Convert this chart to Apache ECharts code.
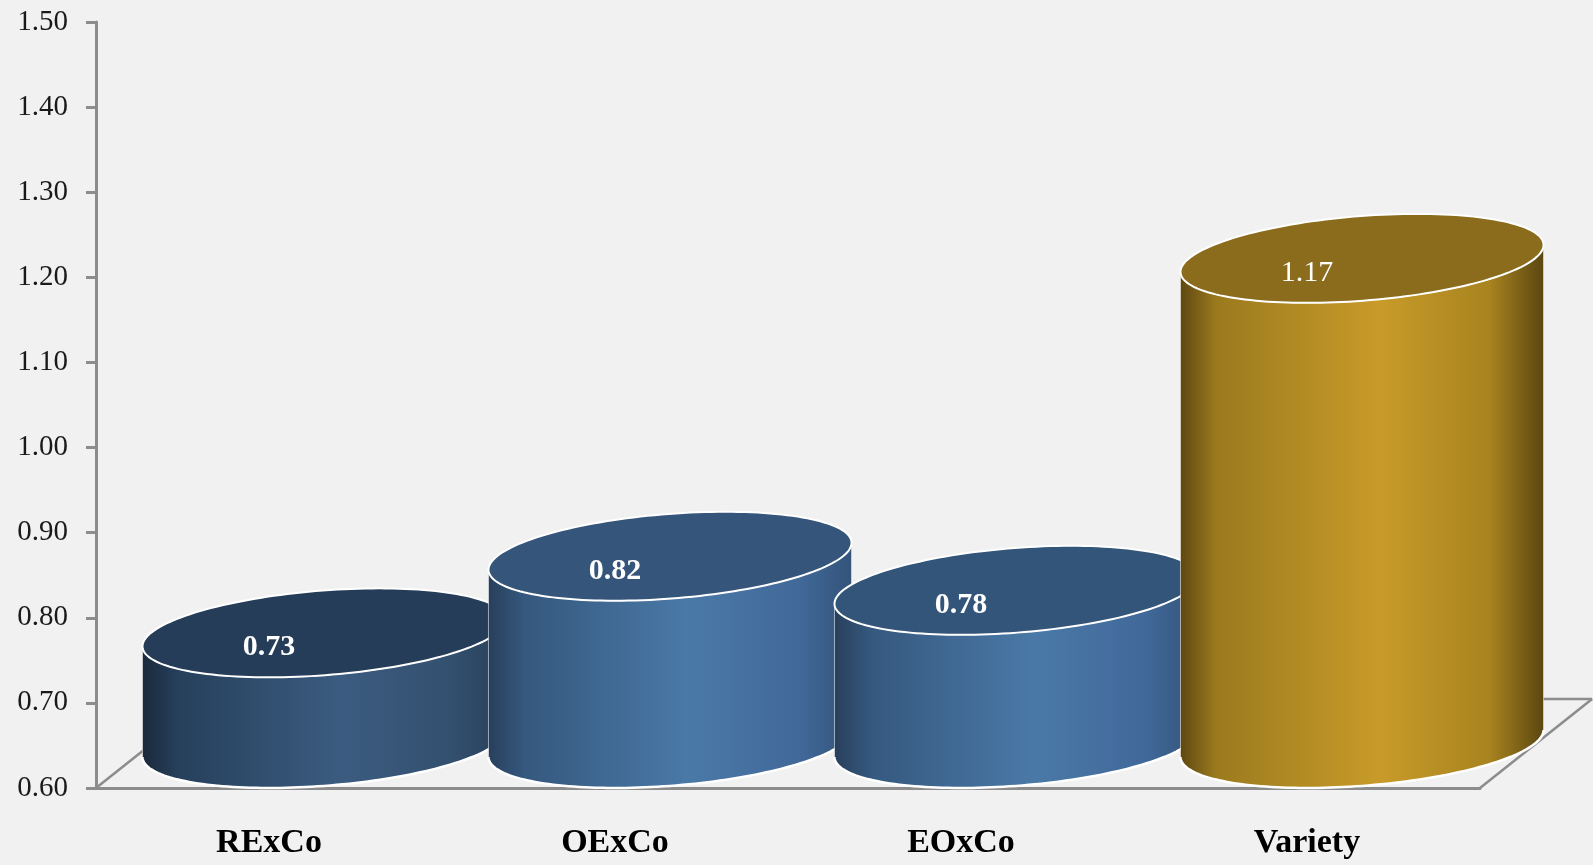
<!DOCTYPE html>
<html><head><meta charset="utf-8">
<script src="https://cdn.jsdelivr.net/npm/echarts@6/dist/echarts.min.js"></script>
<style>html,body{margin:0;padding:0;background:#f1f1f1}#c{width:1593px;height:865px}</style>
</head><body><div id="c"></div>
<script>
// ---- data ----
const categories = ['RExCo', 'OExCo', 'EOxCo', 'Variety'];
const values = [0.73, 0.82, 0.78, 1.17];
const valueLabels = ['0.73', '0.82', '0.78', '1.17'];
const yMin = 0.60, yMax = 1.50, yStep = 0.10;

// ---- styles ----
const FONT = '"Liberation Serif", "Times New Roman", serif';
const palette = [
  { top: '#253d58', side: ['#1b293b', '#26405c', '#3b5c80', '#33506f', '#283f5a'], bold: true },
  { top: '#35567a', side: ['#283f5b', '#35587e', '#4a79a7', '#41699a', '#33547a'], bold: true },
  { top: '#34557a', side: ['#283f5b', '#35587e', '#4a79a7', '#41699a', '#33547a'], bold: true },
  { top: '#8a6c1c', side: ['#5e4711', '#9b7a1e', '#c89b29', '#a8831f', '#5b4610'], bold: false }
];
const AXIS_GREY = '#8c8c8c';

const chart = echarts.init(document.getElementById('c'), null, { renderer: 'canvas' });

function ellipseGeom(band) {
  const a = band * 0.5, vx = -band * 0.159, vy = band * 0.1286;
  const phiR = Math.atan2(vx, a);
  return { a, vx, vy, phiR, phiL: phiR + Math.PI };
}
function arc(g, c, p0, p1, n) {
  const pts = [];
  for (let k = 0; k <= n; k++) {
    const p = p0 + (p1 - p0) * k / n;
    pts.push([c[0] + g.a * Math.cos(p) + g.vx * Math.sin(p), c[1] + g.vy * Math.sin(p)]);
  }
  return pts;
}

function renderCylinder(params, api) {
  const i = params.dataIndex;
  const v = api.value(1);
  const top = api.coord([api.value(0), v]);
  const base = api.coord([api.value(0), yMin]);
  const band = api.size([1, 0])[0];
  const g = ellipseGeom(band);
  const tc = [top[0] - g.vx, top[1] - g.vy];
  const bc = [base[0] - g.vx, base[1] - g.vy];
  const pal = palette[i];
  const body = arc(g, bc, g.phiR, g.phiL, 90).concat(arc(g, tc, g.phiL, g.phiR, 90));
  const s = pal.side;
  return {
    type: 'group',
    children: [
      {
        type: 'polygon', shape: { points: body },
        style: {
          fill: new echarts.graphic.LinearGradient(0, 0, 1, 0, [
            { offset: 0, color: s[0] }, { offset: 0.1, color: s[1] },
            { offset: 0.55, color: s[2] }, { offset: 0.85, color: s[3] }, { offset: 1, color: s[4] }
          ]),
          stroke: 'rgba(255,255,255,0.55)', lineWidth: 1
        }
      },
      {
        type: 'polyline', shape: { points: arc(g, bc, g.phiR, g.phiL, 90) },
        style: { stroke: '#ffffff', lineWidth: 2.5, fill: null }
      },
      {
        type: 'polygon', shape: { points: arc(g, tc, 0, Math.PI * 2, 160) },
        style: { fill: pal.top, stroke: '#ffffff', lineWidth: 2 }
      },
      {
        type: 'text',
        style: {
          x: top[0], y: top[1] - 30, text: valueLabels[i],
          fill: '#ffffff', font: (pal.bold ? 'bold ' : '') + '30px ' + FONT,
          align: 'center', verticalAlign: 'middle'
        }
      }
    ]
  };
}

function renderFloor(params, api) {
  const cs = params.coordSys;
  const band = api.size([1, 0])[0];
  const dx = band * 0.324, dy = -band * 0.257;
  const x0 = cs.x, x1 = cs.x + cs.width, y0 = cs.y + cs.height;
  const ls = { stroke: AXIS_GREY, lineWidth: 2.5 };
  return {
    type: 'group',
    children: [
      { type: 'line', shape: { x1: x0, y1: y0, x2: x0 + dx, y2: y0 + dy }, style: ls },
      { type: 'line', shape: { x1: x1, y1: y0, x2: x1 + dx, y2: y0 + dy }, style: ls },
      { type: 'line', shape: { x1: x0 + dx, y1: y0 + dy, x2: x1 + dx, y2: y0 + dy }, style: ls }
    ]
  };
}

chart.setOption({
  backgroundColor: '#f1f1f1',
  animation: false,
  grid: { left: 96, right: 113, top: 22, bottom: 77, containLabel: false },
  xAxis: {
    type: 'category', data: categories,
    axisLine: { show: true, lineStyle: { color: AXIS_GREY, width: 3 } },
    axisTick: { show: false },
    axisLabel: { fontFamily: FONT, fontSize: 34, fontWeight: 'bold', color: '#000', margin: 38 },
    splitLine: { show: false }
  },
  yAxis: {
    type: 'value', min: yMin, max: yMax, interval: yStep,
    axisLine: { show: true, lineStyle: { color: AXIS_GREY, width: 3 } },
    axisTick: { show: true, length: 10, lineStyle: { color: AXIS_GREY, width: 3 } },
    axisLabel: { fontFamily: FONT, fontSize: 29, color: '#1a1a1a', margin: 28,
      formatter: v => v.toFixed(2) },
    splitLine: { show: false }
  },
  series: [
    { type: 'custom', renderItem: renderFloor, data: [[0, yMin]], encode: { x: 0, y: 1 }, z: 1, silent: true, clip: false },
    { type: 'custom', renderItem: renderCylinder, data: values.map((v, i) => [i, v]), encode: { x: 0, y: 1 }, z: 2, clip: false }
  ]
});
</script>
</body></html>
